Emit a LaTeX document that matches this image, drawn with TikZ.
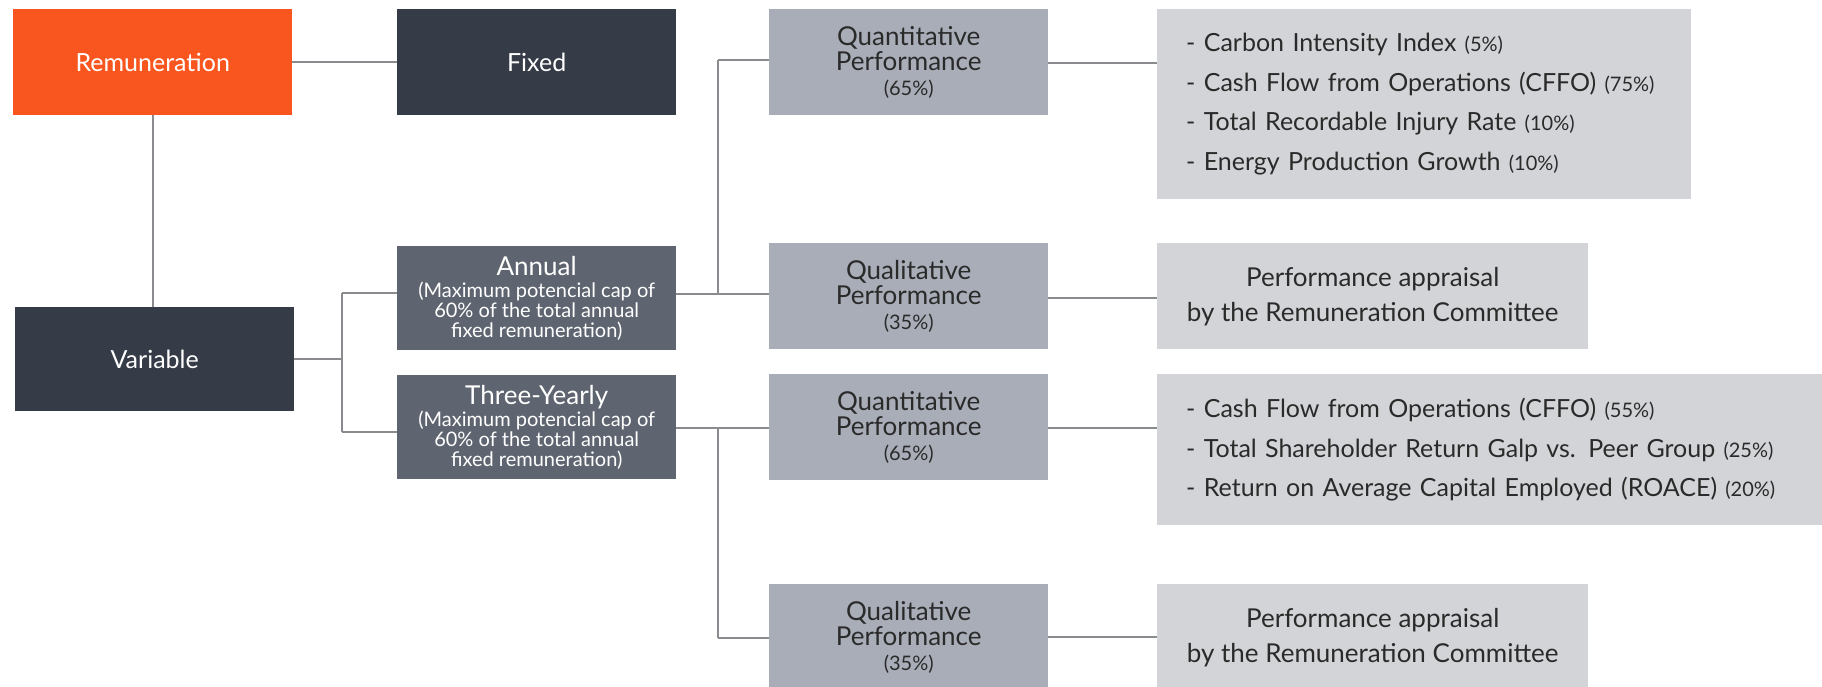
\documentclass[tikz,border=0pt]{standalone}
\usepackage{fontspec}
\setmainfont{Lato}
\definecolor{orangeC}{HTML}{F9561F}
\definecolor{darkC}{HTML}{353B47}
\definecolor{midC}{HTML}{5F6570}
\definecolor{lightC}{HTML}{A8ADB7}
\definecolor{paleC}{HTML}{D3D4D7}
\definecolor{lineC}{HTML}{8A8B8E}
\definecolor{txtC}{HTML}{2A2A2A}
\tikzset{
  box/.style={anchor=north west, inner sep=0pt, align=center, draw=none},
  topbox/.style={box, text=white, font=\fontsize{25}{30}\selectfont},
  subbox/.style={box, fill=midC, text=white, font=\fontsize{20}{20}\selectfont, minimum width=279pt, minimum height=104pt},
  perfbox/.style={box, fill=lightC, text=txtC, font=\fontsize{26}{25}\selectfont, minimum width=279pt, minimum height=106pt},
  listbox/.style={box, fill=paleC, text=txtC, align=left, inner xsep=29pt, font=\fontsize{25}{39.5}\selectfont},
  apprbox/.style={box, fill=paleC, text=txtC, font=\fontsize{26}{35}\selectfont, minimum width=431pt, minimum height=106pt},
  link/.style={draw=lineC, line width=1.6pt},
}
\newcommand{\pct}[1]{{\fontsize{20}{20}\selectfont #1}}
\newcommand{\lpct}[1]{{\fontsize{20}{20}\selectfont #1}}
\newcommand{\subtitle}[1]{{\fontsize{26}{26}\selectfont #1}}
\begin{document}
\begin{tikzpicture}[x=1pt,y=-1pt]
\useasboundingbox (0,0) rectangle (1822,686);
% top level
\node[topbox, fill=orangeC, minimum width=279pt, minimum height=106pt] (rem) at (13,9) {Remuneration};
\node[topbox, fill=darkC, minimum width=279pt, minimum height=106pt] (fixed) at (397,9) {Fixed};
\node[topbox, fill=darkC, minimum width=279pt, minimum height=104pt] (var) at (15,307) {Variable};
% second level
\node[subbox] (annual) at (397,246) {\subtitle{Annual}\\[2pt](Maximum potencial cap of\\60\% of the total annual\\fixed remuneration)};
\node[subbox] (three) at (397,375) {\subtitle{Three-Yearly}\\[2pt](Maximum potencial cap of\\60\% of the total annual\\fixed remuneration)};
% third level
\node[perfbox] (quant1) at (769,9) {Quantitative\\Performance\\\pct{(65\%)}};
\node[perfbox] (qual1) at (769,243) {Qualitative\\Performance\\\pct{(35\%)}};
\node[perfbox] (quant2) at (769,374) {Quantitative\\Performance\\\pct{(65\%)}};
\node[perfbox] (qual2) at (769,584) {Qualitative\\Performance\\\pct{(35\%)}};
% fourth level
\node[listbox, minimum width=534pt, minimum height=190pt, text width=476pt] (list1) at (1157,9)
  {- Carbon Intensity Index \lpct{(5\%)}\\
   - Cash Flow from Operations (CFFO) \lpct{(75\%)}\\
   - Total Recordable Injury Rate \lpct{(10\%)}\\
   - Energy Production Growth \lpct{(10\%)}};
\node[apprbox] (appr1) at (1157,243) {Performance appraisal\\by the Remuneration Committee};
\node[listbox, minimum width=680pt, minimum height=151pt, text width=622pt] (list2) at (1157,374)
  {- Cash Flow from Operations (CFFO) \lpct{(55\%)}\\
   - Total Shareholder Return Galp vs. Peer Group \lpct{(25\%)}\\
   - Return on Average Capital Employed (ROACE) \lpct{(20\%)}};
\node[apprbox] (appr2) at (1157,584) {Performance appraisal\\by the Remuneration Committee};
% junction coordinates
\coordinate (va) at (342,293);
\coordinate (vt) at (342,432);
\coordinate (aq) at (718,60);
\coordinate (aj) at (718,294);
\coordinate (tq) at (718,428);
\coordinate (tj) at (718,638);
% connectors
\draw[link] (rem) -- (fixed);
\draw[link] (rem.south) -- (rem.south |- var.north);
\draw[link] (var.east) -- (var.east -| va);
\draw[link] (va) -- (vt);
\draw[link] (va) -- (va -| annual.west);
\draw[link] (vt) -- (vt -| three.west);
\draw[link] (annual.east |- aj) -- (aj);
\draw[link] (aq) -- (aj);
\draw[link] (aq) -- (aq -| quant1.west);
\draw[link] (aj) -- (aj -| qual1.west);
\draw[link] (quant1.east |- 0,63) -- (list1.west |- 0,63);
\draw[link] (qual1.east |- 0,298) -- (appr1.west |- 0,298);
\draw[link] (three.east |- tq) -- (tq);
\draw[link] (tq) -- (tj);
\draw[link] (tq) -- (tq -| quant2.west);
\draw[link] (tj) -- (tj -| qual2.west);
\draw[link] (quant2.east |- 0,428) -- (list2.west |- 0,428);
\draw[link] (qual2.east |- 0,637) -- (appr2.west |- 0,637);
\end{tikzpicture}
\end{document}
